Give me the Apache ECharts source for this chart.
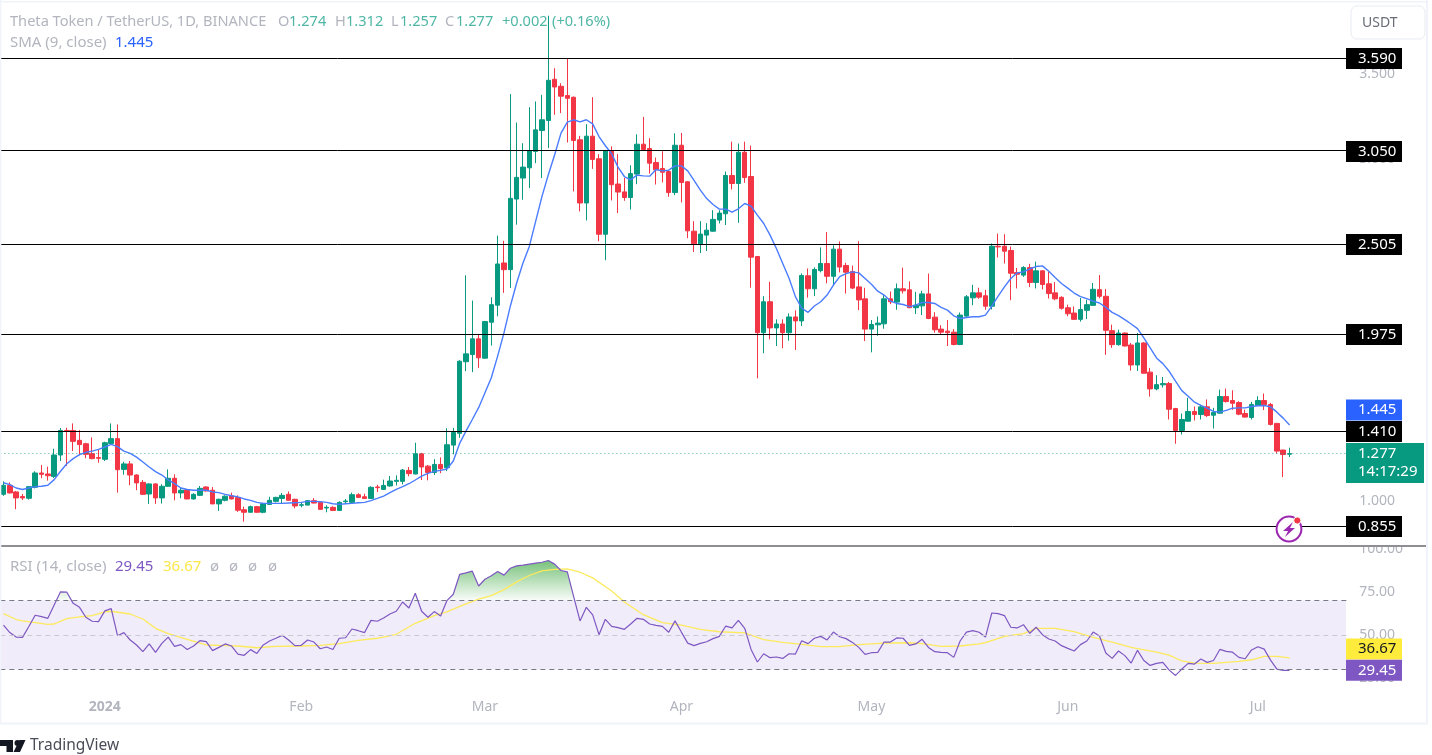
<!DOCTYPE html>
<html><head><meta charset="utf-8"><style>html,body{margin:0;padding:0;background:#fff}#c{width:1432px;height:755px}</style>
<script src="https://cdn.jsdelivr.net/npm/echarts@6/dist/echarts.min.js"></script></head>
<body><div id="c"></div>
<script>
const opens=[1.039,1.092,1.053,1.026,1.016,1.080,1.164,1.158,1.144,1.269,
1.413,1.413,1.355,1.335,1.277,1.254,1.244,1.337,1.365,1.185,
1.217,1.152,1.109,1.041,1.100,1.018,1.086,1.133,1.047,1.065,
1.012,1.033,1.082,1.063,.983,1.004,1.030,1.020,.949,.934,
.967,.934,.980,.998,1.015,1.039,1.010,.975,.976,1.002,
.992,.959,.963,.945,.996,.992,1.037,1.025,1.015,1.082,
1.068,1.088,1.115,1.115,1.179,1.158,1.276,1.204,1.167,1.214,
1.195,1.327,1.396,1.815,1.857,1.949,1.836,2.046,2.146,2.393,
2.354,2.767,2.890,2.950,3.046,3.168,3.227,3.468,3.427,3.373,
3.363,3.114,2.744,3.135,3.003,2.561,3.051,2.855,2.809,2.776,
2.913,3.088,3.063,2.981,2.946,2.928,2.805,3.082,2.868,2.579,
2.505,2.556,2.579,2.644,2.681,2.905,2.858,3.041,2.899,2.431,
1.985,2.166,2.013,2.036,1.985,2.077,2.054,2.318,2.242,2.348,
2.390,2.315,2.474,2.378,2.343,2.253,2.183,2.006,2.031,2.037,
2.183,2.164,2.242,2.236,2.131,2.142,2.212,2.076,2.006,1.994,
1.988,1.916,2.082,2.189,2.218,2.201,2.140,2.491,2.491,2.466,
2.337,2.322,2.366,2.279,2.347,2.271,2.218,2.192,2.131,2.100,
2.063,2.116,2.145,2.237,2.198,1.997,1.915,1.983,1.913,1.796,
1.925,1.754,1.656,1.680,1.687,1.541,1.413,1.467,1.524,1.506,
1.551,1.502,1.514,1.611,1.588,1.576,1.512,1.489,1.559,1.588,
1.565,1.454,1.298,1.274];
const closes=[1.092,1.047,1.018,1.018,1.084,1.164,1.156,1.148,1.269,1.413,
1.411,1.349,1.330,1.273,1.248,1.250,1.341,1.365,1.183,1.217,
1.152,1.106,1.039,1.100,1.018,1.086,1.133,1.047,1.063,1.012,
1.039,1.074,1.059,.983,1.010,1.028,1.012,.946,.934,.967,
.934,.984,1.004,1.021,1.033,1.004,.971,.978,1.002,.988,
.951,.963,.945,.992,1.000,1.037,1.021,1.015,1.080,1.078,
1.091,1.117,1.121,1.181,1.160,1.276,1.199,1.167,1.214,1.189,
1.329,1.401,1.818,1.861,1.949,1.838,2.050,2.149,2.387,2.354,
2.771,2.894,2.954,3.051,3.172,3.231,3.462,3.423,3.369,3.357,
3.110,2.744,3.135,2.999,2.561,3.051,2.851,2.808,2.776,2.916,
3.088,3.057,2.977,2.938,2.924,2.805,3.082,2.864,2.581,2.505,
2.562,2.585,2.648,2.685,2.905,2.858,3.041,2.893,2.427,1.985,
2.166,2.013,2.036,1.985,2.077,2.054,2.320,2.242,2.355,2.390,
2.315,2.474,2.369,2.339,2.246,2.177,2.006,2.033,2.041,2.183,
2.166,2.242,2.230,2.131,2.146,2.212,2.068,2.002,1.988,1.985,
1.916,2.088,2.195,2.218,2.193,2.140,2.491,2.487,2.462,2.333,
2.327,2.366,2.279,2.347,2.267,2.214,2.183,2.128,2.096,2.063,
2.120,2.149,2.239,2.198,1.999,1.915,1.983,1.907,1.796,1.925,
1.748,1.656,1.681,1.687,1.537,1.413,1.477,1.524,1.506,1.551,
1.500,1.518,1.611,1.582,1.572,1.508,1.491,1.565,1.588,1.563,
1.448,1.292,1.272,1.277];
const highs=[1.115,1.109,1.059,1.041,1.088,1.174,1.211,1.201,1.306,1.427,
1.429,1.454,1.415,1.341,1.372,1.304,1.347,1.454,1.448,1.230,
1.234,1.156,1.123,1.104,1.104,1.098,1.185,1.156,1.078,1.068,
1.045,1.088,1.086,1.082,1.014,1.033,1.049,1.033,.967,.973,
.971,.990,1.025,1.025,1.047,1.056,1.013,.992,1.006,1.017,
.996,.975,.969,.998,1.012,1.049,1.045,1.043,1.086,1.095,
1.125,1.146,1.150,1.187,1.199,1.341,1.282,1.210,1.245,1.255,
1.426,1.428,1.824,2.321,2.173,1.974,2.054,2.192,2.553,2.523,
3.381,3.215,3.094,3.305,3.338,3.377,3.84,3.533,3.445,3.587,
3.367,3.137,3.205,3.363,3.030,3.055,3.075,3.030,2.891,2.965,
3.146,3.248,3.123,3.010,3.047,2.932,3.152,3.154,2.872,2.638,
2.638,2.626,2.702,2.702,2.928,3.103,3.092,3.103,3.080,2.433,
2.199,2.283,2.063,2.063,2.098,2.116,2.332,2.361,2.367,2.484,
2.574,2.496,2.519,2.394,2.378,2.520,2.248,2.059,2.080,2.205,
2.226,2.273,2.366,2.285,2.224,2.230,2.331,2.105,2.029,2.059,
2.006,2.103,2.205,2.265,2.248,2.236,2.507,2.565,2.561,2.489,
2.364,2.374,2.388,2.401,2.351,2.341,2.281,2.198,2.149,2.139,
2.188,2.178,2.276,2.322,2.241,2.032,2.003,1.985,1.925,1.983,
1.929,1.779,1.736,1.726,1.697,1.545,1.512,1.604,1.553,1.563,
1.594,1.545,1.652,1.658,1.648,1.584,1.535,1.580,1.613,1.629,
1.574,1.457,1.300,1.312];
const lows=[1.030,1.045,.952,1.006,1.008,1.074,1.133,1.119,1.135,1.234,
1.205,1.292,1.267,1.250,1.244,1.224,1.234,1.335,1.049,1.154,
1.092,1.063,1.035,.983,.983,.985,1.082,1.004,1.016,1.010,
1.008,1.029,1.055,.981,.942,.998,1.010,.936,.879,.932,
.932,.928,.978,.992,.986,1.002,.957,.963,.975,.986,
.949,.934,.941,.941,.982,.990,1.017,1.013,1.012,1.052,
1.064,1.084,1.091,1.097,1.144,1.156,1.123,1.121,1.152,1.163,
1.175,1.273,1.370,1.760,1.754,1.779,1.832,1.910,2.081,2.218,
2.247,2.617,2.763,2.831,2.977,2.890,3.065,3.260,3.270,3.098,
2.812,2.695,2.642,2.944,2.520,2.409,2.759,2.685,2.757,2.706,
2.854,3.053,2.916,2.852,2.864,2.780,2.790,2.747,2.538,2.457,
2.451,2.463,2.576,2.624,2.615,2.823,2.628,2.862,2.248,1.718,
1.865,1.946,1.907,1.894,1.938,1.884,2.024,2.190,2.199,2.338,
2.274,2.258,2.338,2.214,2.240,2.117,1.936,1.870,1.967,2.008,
2.152,2.119,2.214,2.129,2.094,2.088,2.064,1.985,1.975,1.907,
1.911,1.912,2.078,2.146,2.183,2.119,2.121,2.425,2.390,2.175,
2.244,2.312,2.253,2.244,2.238,2.185,2.175,2.120,2.081,2.061,
2.050,2.065,2.143,2.186,1.855,1.896,1.909,1.904,1.763,1.761,
1.746,1.611,1.648,1.664,1.477,1.335,1.389,1.465,1.471,1.477,
1.491,1.424,1.512,1.576,1.533,1.502,1.489,1.477,1.555,1.532,
1.442,1.278,1.140,1.257];
const sma9=[1.107,1.096,1.076,1.067,1.076,1.084,1.086,1.092,1.125,1.174,
1.218,1.248,1.271,1.285,1.292,1.302,1.316,1.331,1.318,1.292,
1.279,1.257,1.228,1.199,1.172,1.152,1.123,1.102,1.076,1.067,
1.063,1.063,1.063,1.053,1.049,1.039,1.031,1.024,1.012,1.004,
.992,.986,.986,.986,.986,.988,.990,.992,.998,.998,
.996,.992,.984,.980,.984,.986,.990,.992,1.002,1.015,
1.029,1.049,1.068,1.084,1.101,1.123,1.146,1.162,1.173,1.179,
1.187,1.234,1.337,1.409,1.477,1.546,1.633,1.721,1.848,1.984,
2.140,2.276,2.393,2.490,2.636,2.783,2.909,3.026,3.153,3.217,
3.231,3.219,3.231,3.207,3.133,3.079,3.032,2.954,2.899,2.880,
2.907,2.903,2.901,2.940,2.932,2.936,2.961,2.961,2.932,2.877,
2.819,2.770,2.735,2.708,2.708,2.690,2.710,2.741,2.726,2.673,
2.624,2.556,2.478,2.390,2.303,2.196,2.128,2.104,2.141,2.166,
2.205,2.264,2.313,2.331,2.341,2.335,2.302,2.269,2.228,2.205,
2.170,2.156,2.150,2.137,2.146,2.162,2.162,2.156,2.133,2.117,
2.084,2.068,2.074,2.078,2.078,2.088,2.140,2.199,2.253,2.302,
2.335,2.341,2.359,2.372,2.376,2.345,2.308,2.273,2.246,2.217,
2.196,2.184,2.170,2.159,2.133,2.104,2.085,2.061,2.036,2.009,
1.954,1.896,1.837,1.804,1.759,1.701,1.646,1.613,1.578,1.559,
1.543,1.524,1.520,1.530,1.543,1.545,1.545,1.553,1.557,1.559,
1.551,1.520,1.485,1.445];
const rsi=[55.8,51.4,48.8,48.6,54.9,61.5,60.7,59.7,67.5,75.1,
74.9,68.4,66.1,60.3,58.0,57.8,64.0,65.3,49.6,51.4,
47.1,44.2,40.3,44.8,39.9,45.1,48.8,43.4,44.4,41.6,
43.6,46.7,46.1,40.9,42.8,44.8,43.6,38.9,38.2,41.5,
39.3,44.2,46.5,48.1,49.8,47.1,43.8,44.0,47.1,45.9,
42.0,43.0,41.6,48.1,48.4,53.5,52.5,51.4,58.5,58.0,
59.9,62.2,63.8,69.2,65.7,74.3,63.8,60.3,63.6,61.1,
70.0,73.7,85.2,86.1,87.1,78.5,82.4,84.4,86.9,84.8,
88.8,90.2,90.6,91.2,91.8,92.3,93.3,91.2,87.5,86.7,
72.3,58.2,66.1,61.7,50.2,59.1,55.0,54.3,53.3,56.4,
59.7,59.1,56.4,55.6,55.0,51.6,58.2,51.7,45.3,43.8,
45.1,46.1,47.9,49.2,55.2,54.1,58.5,53.9,41.6,34.3,
39.1,36.8,37.2,36.4,39.1,38.9,46.7,45.0,48.1,49.2,
47.1,51.7,49.0,47.9,45.7,42.8,38.7,39.7,39.9,45.9,
45.9,48.3,48.1,44.0,44.8,47.5,42.8,40.3,39.9,39.7,
37.0,46.5,51.7,52.5,51.6,48.8,62.8,62.4,61.3,54.5,
54.1,56.0,51.0,54.5,50.2,47.7,46.5,43.8,42.2,40.7,
44.4,46.5,51.7,49.4,39.5,36.4,40.7,38.0,33.7,41.1,
35.2,32.3,33.5,34.1,29.6,26.5,30.2,33.5,33.1,36.0,
34.1,35.2,41.6,40.5,40.0,37.0,36.2,41.3,43.2,41.8,
35.4,30.2,29.4,29.45];
const rsiMaDay=[0,2,3,5,7,8,10,12,14,16,17,20,22,24,26,29,32,35,37,40,43,47,50,53,56,59,62,65,68,70,71,73,75,77,79,81,83,85,87,89,91,93,96,98,101,104,107,110,113,117,120,123,126,129,132,135,139,143,145,148,151,154,155,158,161,163,166,169,172,175,178,182,184,186,188,191,195,197,199,201,203];
const rsiMaVal=[62.4,59.0,58.2,57.2,56.2,56.4,59.5,60.5,61.3,63.4,63.8,62.2,59.3,53.9,50.8,47.5,44.2,43.8,43.6,42.6,43.4,43.6,44.0,45.0,46.9,48.1,50.4,56.8,61.3,63.4,65.0,68.1,70.8,72.9,76.4,80.9,84.6,87.3,88.1,88.5,86.5,83.2,75.6,69.2,61.8,57.2,55.8,53.3,51.9,51.2,47.3,45.7,44.6,43.2,43.2,44.4,45.3,45.5,45.0,43.4,43.6,44.8,45.5,49.2,50.8,53.9,53.9,51.9,48.6,45.9,42.8,40.1,38.3,34.9,33.7,33.5,34.7,35.6,37.6,37.6,36.67];
const levels=[3.59,3.05,2.505,1.975,1.41,0.855];
const lastPrice=[1.277];
const priceTicks=[1,1.5,2,2.5,3,3.5];
const monthTicks={'2024-01-01':'2024','2024-02-01':'Feb','2024-03-01':'Mar','2024-04-01':'Apr','2024-05-01':'May','2024-06-01':'Jun','2024-07-01':'Jul'};
const categories=[];
for(let d=new Date(Date.UTC(2023,11,16)),k=0;k<213;k++,d=new Date(d.getTime()+864e5))categories.push(d.toISOString().slice(0,10));

const UP='#089981',DOWN='#f23645',GREY='#b2b5be',FONT='"Noto Sans"';
const candle=opens.map((o,i)=>[o,closes[i],lows[i],highs[i]]);
const gridBox={left:0.33,width:1349.4};
const chart=echarts.init(document.getElementById('c'),null,{renderer:'canvas'});
function xAx(idx,show){return {type:'category',gridIndex:idx,data:categories,boundaryGap:true,
 axisLine:{show:false},axisTick:{show:false},splitLine:{show:false},
 axisLabel:{show:show,inside:true,margin:7,fontFamily:FONT,fontSize:14,color:GREY,hideOverlap:false,
  interval:(i,v)=>v in monthTicks,
  formatter:v=>monthTicks[v]==='2024'?'{b|2024}':(monthTicks[v]||''),
  rich:{b:{fontWeight:'bold',fontSize:14,color:GREY,fontFamily:FONT}}}};}
chart.setOption({
 animation:false,backgroundColor:'#fff',
 grid:[Object.assign({top:-0.75,height:546},gridBox),Object.assign({top:549,height:172},gridBox)],
 xAxis:[xAx(0,false),xAx(1,true)],
 yAxis:[
  {type:'value',gridIndex:0,position:'right',min:0.741,max:3.932,z:5,scale:true,splitLine:{show:false},axisLine:{show:false},axisTick:{show:false},
   axisLabel:{margin:9.4,padding:[2,0,0,0],fontFamily:FONT,fontSize:14,color:GREY,customValues:priceTicks,formatter:v=>v.toFixed(3)}},
  {type:'value',gridIndex:1,position:'right',min:0,max:100,interval:25,z:5,splitLine:{show:false},axisLine:{show:false},axisTick:{show:false},
   axisLabel:{margin:9.4,padding:[2,0,0,0],fontFamily:FONT,fontSize:14,color:GREY,formatter:v=>v===0?'':v.toFixed(2)}}
 ],
 series:[
  {type:'candlestick',name:'THETA',xAxisIndex:0,yAxisIndex:0,barWidth:5,data:candle,
   itemStyle:{color:UP,color0:DOWN,borderColor:UP,borderColor0:DOWN,borderWidth:1},
   markLine:{silent:true,symbol:'none',animation:false,precision:3,label:{show:false},
    data:levels.map(v=>({yAxis:v,lineStyle:{color:'#000',width:1,type:'solid'}})).concat(
     lastPrice.map(v=>({yAxis:v,lineStyle:{color:'#089981',width:1,type:[1,3],opacity:.75}})))}},
  {type:'line',name:'SMA 9',xAxisIndex:0,yAxisIndex:0,data:sma9,showSymbol:false,symbol:'none',lineStyle:{color:'#4a7cff',width:1.4},z:3},
  {type:'line',name:'RSI band',xAxisIndex:1,yAxisIndex:1,data:[],
   markArea:{silent:true,itemStyle:{color:'#f0ecf9'},data:[[{yAxis:30},{yAxis:70}]]},
   markLine:{silent:true,symbol:'none',animation:false,label:{show:false},
    data:[{yAxis:70,lineStyle:{color:'#787b86',type:[5,4],width:1}},{yAxis:50,lineStyle:{color:'#c9c9cf',type:[5,4],width:1}},{yAxis:30,lineStyle:{color:'#787b86',type:[5,4],width:1}}]}},
  {type:'line',name:'RSI fill',xAxisIndex:1,yAxisIndex:1,data:rsi,showSymbol:false,symbol:'none',lineStyle:{width:0,opacity:0},
   areaStyle:{origin:70,opacity:1,color:{type:'linear',global:true,x:0,y:561,x2:0,y2:600.5,colorStops:[{offset:0,color:'rgba(76,175,80,.75)'},{offset:.999,color:'rgba(76,175,80,.03)'},{offset:1,color:'rgba(76,175,80,0)'}]}},z:1},
  {type:'line',name:'RSI MA',xAxisIndex:1,yAxisIndex:1,data:rsiMaDay.map((d,i)=>[categories[d],rsiMaVal[i]]),showSymbol:false,symbol:'none',lineStyle:{color:'#fdea5c',width:1.3},z:3},
  {type:'line',name:'RSI',xAxisIndex:1,yAxisIndex:1,data:rsi,showSymbol:false,symbol:'none',lineStyle:{color:'#7e57c2',width:1.2},z:4}
 ]
});
const T=(x,y,text,fill,extra)=>({type:'text',z:20,x:x,y:y,silent:true,style:Object.assign({text:text,fill:fill,font:'15px '+FONT,textVerticalAlign:'middle',verticalAlign:'middle'},extra||{})});
const R=(x,y,w,h,fill,z,extra)=>({type:'rect',z:z||19,silent:true,shape:Object.assign({x:x,y:y,width:w,height:h},extra||{}),style:{fill:fill}});
const Tag=(cy,text,bg,fg)=>[R(1346,cy-10.5,56,21,bg),T(1358,cy,text,fg,{font:'15px '+FONT})];
const py=v=>Math.round(chart.convertToPixel({yAxisIndex:0},v));
const gr=[
 R(1346,0,82,723,'#fff',3),               // price scale background
 R(1349,536,79,9.5,'#fff',8),             // clips the 100.00 tick at the pane edge
 R(0,545,1428,2,'#8f8e94',9),             // pane separator
 R(0,1,1428,1.5,'#f0f3fa',9),R(1426,0,2,724,'#f0f3fa',9),R(0,722.5,1428,2,'#f0f3fa',9),R(0,0,1.3,724,'#f0f3fa',9)
];
levels.forEach(v=>gr.push(...Tag(py(v)+0.5,v.toFixed(3),'#000','#fff')));
gr.push(...Tag(410,'1.445','#2962ff','#fff'));
gr.push(R(1346,443,78,40,UP),T(1358,454,'1.277','#fff'),T(1358,472,'14:17:29','#fff'));
gr.push(...Tag(649,'36.67','#ffeb3b','#131722'),...Tag(670.3,'29.45','#7e57c2','#fff'));
// USDT button
gr.push({type:'rect',z:19,silent:true,shape:{x:1351,y:6,width:74,height:33,r:6},style:{fill:'#fff',stroke:'#e9ebf1',lineWidth:1}},T(1362,23,'USDT','#6a6d78',{font:'14px '+FONT}));
// legend rows
[[10,'Theta Token / TetherUS, 1D, BINANCE',GREY],[278,'O',GREY],[289,'1.274','#4fb7a5'],[335,'H',GREY],[346,'1.312','#4fb7a5'],[391,'L',GREY],[400,'1.257','#4fb7a5'],[445,'C',GREY],[456,'1.277','#4fb7a5'],[502,'+0.002','#4fb7a5'],[552,'(+0.16%)','#4fb7a5']].forEach(a=>gr.push(T(a[0],22,a[1],a[2],{font:'14.6px '+FONT})));
gr.push(T(10,43,'SMA (9, close)',GREY),T(115,43,'1.445','#2962ff'));
gr.push(T(10,567,'RSI (14, close)',GREY),T(115,567,'29.45','#7e57c2'),T(163,567,'36.67','#fbe74a'));
[210,229,248,268].forEach(x=>gr.push(T(x,567,'ø',GREY)));
// bolt icon
gr.push({type:'circle',z:19,silent:true,shape:{cx:1289,cy:529,r:12.4},style:{fill:'#fff',stroke:'#9c27b0',lineWidth:2}},
 {type:'polygon',z:20,silent:true,shape:{points:[[1293,522],[1283,531],[1288,531],[1285,537],[1295,528],[1290,528]]},style:{fill:'#9c27b0'}},
 {type:'circle',z:21,silent:true,shape:{cx:1297.3,cy:520.5,r:3.6},style:{fill:'#f23645',stroke:'#fff',lineWidth:1}});
// TradingView mark
gr.push({type:'polygon',z:20,silent:true,shape:{points:[[0,740],[13,740],[13,752],[6.5,752],[6.5,746],[0,746]]},style:{fill:'#131722'}},
 {type:'circle',z:20,silent:true,shape:{cx:17.5,cy:743,r:3},style:{fill:'#131722'}},
 {type:'polygon',z:20,silent:true,shape:{points:[[19.5,740],[25.5,740],[20,752],[13.5,752]]},style:{fill:'#131722'}},
 T(30,746,'TradingView','#4a4d57',{font:'15.5px '+FONT}));
chart.setOption({graphic:{elements:gr}});
</script></body></html>
